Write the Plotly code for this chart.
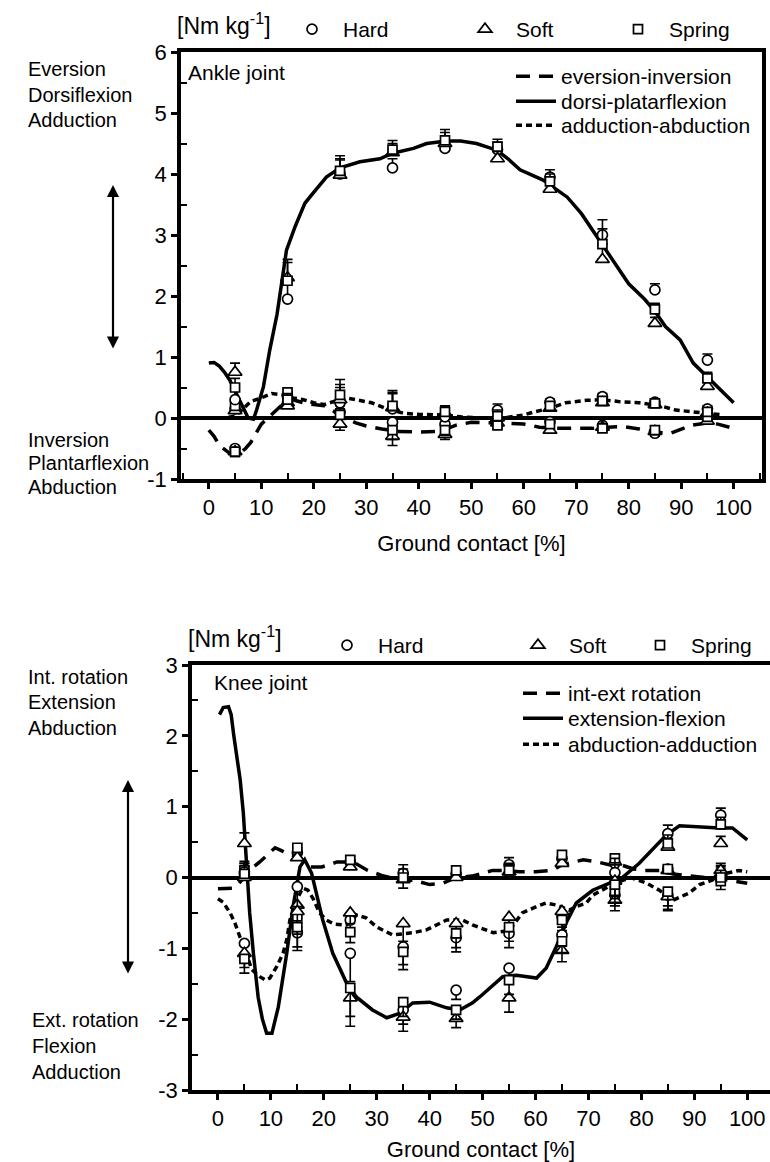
import plotly.graph_objects as go

FONT = "Liberation Sans, Arial, sans-serif"
W, H = 770, 1162
MB = 72  # bottom margin (px) holding the lower x-axis labels and title
PH = H - MB  # plotting-area height

# ---------------- data ----------------
pct = [5, 15, 25, 35, 45, 55, 65, 75, 85, 95]
x_ticks = [0, 10, 20, 30, 40, 50, 60, 70, 80, 90, 100]
x_minor = [-5, 5, 15, 25, 35, 45, 55, 65, 75, 85, 95, 105]
ankle_y_ticks = [-1, 0, 1, 2, 3, 4, 5, 6]
ankle_y_labels = ["-1", "0", "1", "2", "3", "4", "5", "6"]
ankle_y_minor = [-0.5, 0.5, 1.5, 2.5, 3.5, 4.5, 5.5]
knee_y_ticks = [-3, -2, -1, 0, 1, 2, 3]
knee_y_labels = ["-3", "-2", "-1", "0", "1", "2", "3"]
knee_y_minor = [-2.5, -1.5, -0.5, 0.5, 1.5, 2.5]

# Ankle joint curves
ankle_eve_x = [0, 1, 2, 3, 4, 5, 6, 7, 8, 9, 10, 11, 12.5, 14, 16, 18, 20, 22, 24, 26, 28, 30,
               33, 36, 40, 44, 47, 50, 55, 60, 63, 66, 70, 73, 76, 79, 82, 85, 88, 90, 92, 95, 97, 100]
ankle_eve_y = [-0.2, -0.3, -0.45, -0.52, -0.58, -0.6, -0.57, -0.5, -0.4, -0.25, -0.1, -0.02, 0.1,
               0.22, 0.3, 0.25, 0.22, 0.2, 0.1, 0.0, -0.08, -0.13, -0.18, -0.22, -0.23, -0.22, -0.12,
               -0.07, -0.08, -0.1, -0.15, -0.17, -0.17, -0.17, -0.15, -0.14, -0.18, -0.23, -0.25,
               -0.18, -0.12, -0.08, -0.1, -0.17]
ankle_dor_x = [0, 1, 2, 3, 4, 5, 6, 7, 7.5, 8.5, 9.1, 10.4, 11.6, 13, 14, 14.8, 16.4, 18.3, 19.9,
               22.4, 25, 28.8, 32.6, 35, 39, 41.5, 45.3, 48, 51, 54.9, 57, 59.3, 63.7, 68.3, 71, 75,
               78, 80, 83, 85, 87, 89.8, 92.3, 94.2, 96, 98, 100]
ankle_dor_y = [0.9, 0.91, 0.85, 0.75, 0.62, 0.45, 0.25, 0.08, 0.0, -0.02, 0.13, 0.51, 1.11, 1.7,
               2.3, 2.75, 3.13, 3.52, 3.69, 3.95, 4.1, 4.2, 4.25, 4.34, 4.42, 4.5, 4.54, 4.54, 4.5,
               4.39, 4.25, 4.07, 3.9, 3.62, 3.35, 2.85, 2.45, 2.2, 1.95, 1.75, 1.5, 1.28, 0.9, 0.74,
               0.6, 0.43, 0.25]
ankle_add_x = [0, 3, 5, 6.5, 8, 10, 12, 14, 16, 18, 20, 22, 24, 26, 28, 31, 34, 37, 40, 44, 48, 52,
               56, 60, 62, 65, 68, 72, 75, 78, 82, 86, 89, 93, 96, 98]
ankle_add_y = [0.0, 0.0, 0.03, 0.15, 0.27, 0.33, 0.4, 0.38, 0.33, 0.3, 0.25, 0.22, 0.28, 0.33, 0.3,
               0.25, 0.15, 0.08, 0.06, 0.05, 0.02, 0.0, 0.0, 0.05, 0.1, 0.16, 0.25, 0.29, 0.3, 0.27,
               0.25, 0.2, 0.13, 0.1, 0.07, 0.05]

# Ankle joint markers (Hard / Soft / Spring) and error sizes
ankle_dor_hard = [0.3, 1.95, 4.0, 4.1, 4.42, 4.4, 3.95, 3.0, 2.1, 0.95]
ankle_dor_soft = [0.75, 2.3, 3.98, 4.35, 4.5, 4.25, 3.75, 2.6, 1.55, 0.52]
ankle_dor_spring = [0.5, 2.25, 4.05, 4.4, 4.55, 4.45, 3.88, 2.85, 1.78, 0.65]
ankle_dor_err = [0.15, 0.3, 0.25, 0.15, 0.18, 0.12, 0.12, 0.25, 0.1, 0.1]
ankle_eve_hard = [-0.5, 0.35, 0.1, -0.07, -0.1, -0.05, -0.06, -0.12, -0.25, 0.0]
ankle_eve_soft = [-0.55, 0.25, -0.1, -0.3, -0.27, -0.08, -0.2, -0.15, -0.22, -0.05]
ankle_eve_spring = [-0.55, 0.42, 0.05, -0.2, -0.2, -0.12, -0.1, -0.17, -0.2, 0.02]
ankle_eve_err = [0.08, 0.05, 0.1, 0.15, 0.08, 0.05, 0.05, 0.05, 0.05, 0.05]
ankle_add_hard = [0.15, 0.25, 0.25, 0.15, 0.02, 0.13, 0.26, 0.35, 0.26, 0.15]
ankle_add_soft = [0.12, 0.2, 0.3, 0.17, 0.08, 0.0, 0.16, 0.25, 0.22, 0.08]
ankle_add_spring = [0.2, 0.3, 0.38, 0.2, 0.1, 0.03, 0.2, 0.28, 0.24, 0.1]
ankle_add_err = [0.1, 0.1, 0.25, 0.25, 0.1, 0.1, 0.05, 0.05, 0.05, 0.05]

# Knee joint curves
knee_int_x = [0, 1, 2.8, 4, 5, 6.4, 7.9, 9.5, 10.8, 12, 13.6, 15, 16.5, 17.4, 19.6, 21, 22.5, 25.5,
              28.3, 30.9, 34.6, 37, 40, 42.5, 45, 48, 51.9, 54, 57, 60, 63.2, 65, 69, 71.7, 74.5,
              76.5, 78.5, 80.6, 83.4, 86, 89, 92, 95, 98, 100]
knee_int_y = [-0.16, -0.16, -0.15, -0.08, 0.0, 0.13, 0.22, 0.33, 0.42, 0.38, 0.32, 0.3, 0.22, 0.15,
              0.15, 0.18, 0.22, 0.22, 0.1, 0.03, -0.04, -0.04, -0.1, -0.08, 0.0, 0.02, 0.1, 0.1,
              0.08, 0.08, 0.1, 0.18, 0.25, 0.22, 0.17, 0.17, 0.12, 0.1, 0.1, 0.05, 0.02, 0.0,
              -0.02, -0.05, -0.08]
knee_ext_x = [0.3, 1, 2, 2.5, 3, 4.2, 4.8, 5.4, 6.0, 6.7, 7.6, 8.4, 9.2, 10.2, 11.4, 13, 14.2, 15.5,
              16.4, 17.7, 18.6, 19.8, 21.7, 24.3, 26.2, 29.2, 31.9, 34.3, 36.8, 40, 43.2, 45.7,
              48.1, 49.4, 53.8, 56.4, 60.2, 62, 63.9, 65.8, 67.7, 70.8, 74, 76.4, 79.6, 82.1, 84.7,
              87.2, 90.9, 94.7, 97.2, 99, 100]
knee_ext_y = [2.3, 2.4, 2.41, 2.3, 2.0, 1.38, 0.91, 0.2, -0.5, -1.07, -1.69, -2.0, -2.2, -2.2,
              -1.83, -1.07, -0.41, 0.15, 0.25, 0.06, -0.22, -0.6, -1.07, -1.49, -1.69, -1.87,
              -1.98, -1.92, -1.77, -1.76, -1.84, -1.87, -1.77, -1.69, -1.4, -1.38, -1.42, -1.28,
              -0.98, -0.64, -0.36, -0.18, -0.08, 0.0, 0.2, 0.39, 0.6, 0.73, 0.71, 0.7, 0.7, 0.6,
              0.53]
knee_abd_x = [0, 1, 2.3, 3.2, 4.2, 5, 6.4, 7.9, 9, 9.8, 11.1, 12.3, 13, 13.6, 15, 16, 17, 18, 19.2,
              20.5, 22, 24.3, 26.2, 28, 30, 33, 36.8, 39.4, 43.2, 46.2, 48.1, 50.7, 52, 55, 57.5,
              60.2, 62, 64, 66.4, 67.7, 69.6, 70.8, 72.6, 75, 78, 81, 83.4, 86, 89, 91, 94, 96,
              98.5, 100]
knee_abd_y = [-0.3, -0.35, -0.5, -0.64, -0.85, -1.0, -1.3, -1.4, -1.45, -1.42, -1.26, -1.07, -0.88,
              -0.6, -0.3, -0.15, -0.18, -0.3, -0.5, -0.6, -0.66, -0.67, -0.53, -0.57, -0.7, -0.81,
              -0.78, -0.74, -0.6, -0.6, -0.67, -0.74, -0.78, -0.75, -0.5, -0.41, -0.36, -0.39,
              -0.46, -0.41, -0.36, -0.25, -0.18, -0.08, 0.0, -0.08, -0.18, -0.32, -0.22, -0.1,
              -0.02, 0.06, 0.1, 0.08]

# Knee joint markers
knee_ext_hard = [0.08, -0.13, -1.07, -1.87, -1.59, -1.28, -0.81, 0.07, 0.62, 0.88]
knee_ext_soft = [0.48, -0.48, -1.7, -1.97, -1.99, -1.7, -1.03, -0.05, 0.43, 0.48]
knee_ext_spring = [0.05, -0.7, -1.56, -1.76, -1.87, -1.45, -0.9, -0.1, 0.48, 0.75]
knee_ext_err = [0.15, 0.28, 0.4, 0.2, 0.13, 0.2, 0.16, 0.2, 0.12, 0.1]
knee_int_hard = [0.05, 0.35, 0.22, 0.06, 0.05, 0.18, 0.27, 0.2, 0.12, 0.0]
knee_int_soft = [0.0, 0.28, 0.15, -0.03, 0.0, 0.08, 0.2, 0.22, 0.1, 0.05]
knee_int_spring = [0.1, 0.42, 0.25, 0.0, 0.1, 0.1, 0.32, 0.27, 0.12, -0.05]
knee_int_err = [0.1, 0.05, 0.05, 0.12, 0.06, 0.1, 0.05, 0.05, 0.05, 0.12]
knee_abd_hard = [-0.93, -0.78, -0.6, -0.98, -0.85, -0.79, -0.55, -0.25, -0.25, 0.05]
knee_abd_soft = [-1.07, -0.39, -0.5, -0.65, -0.65, -0.56, -0.48, -0.32, -0.27, 0.1]
knee_abd_spring = [-1.15, -0.55, -0.77, -1.05, -0.79, -0.7, -0.6, -0.2, -0.2, 0.0]
knee_abd_err = [0.2, 0.25, 0.15, 0.25, 0.2, 0.2, 0.15, 0.15, 0.2, 0.1]

# ---------------- styles ----------------
LONG_DASH = "14px,9px"
SHORT_DASH = "6px,4px"
LW = 3.5
SYMBOLS = {"Hard": ("circle", 10), "Soft": ("triangle-up", 12), "Spring": ("square", 9)}
FS = 21

fig = go.Figure()


def add_line(x, y, name, dash, xa, ya, legend):
    fig.add_trace(go.Scatter(
        x=x, y=y, mode="lines", name=name, xaxis=xa, yaxis=ya, legend=legend,
        line=dict(color="black", width=LW, dash=dash), hoverinfo="skip"))


def add_markers(y, err, surface, xa, ya, legend=None):
    sym, size = SYMBOLS[surface]
    plus = [e if v >= 0 else 0 for v, e in zip(y, err)]
    minus = [e if v < 0 else 0 for v, e in zip(y, err)]
    fig.add_trace(go.Scatter(
        x=pct, y=y, mode="markers", name=surface, xaxis=xa, yaxis=ya,
        showlegend=legend is not None, legend=legend if legend else "legend",
        marker=dict(symbol=sym, size=size, color="white",
                    line=dict(color="black", width=1.7)),
        error_y=dict(type="data", symmetric=False, array=plus, arrayminus=minus,
                     color="black", thickness=1.6, width=5),
        hoverinfo="skip"))


# Ankle panel (x, y)
add_line(ankle_eve_x, ankle_eve_y, "eversion-inversion", LONG_DASH, "x", "y", "legend")
add_line(ankle_dor_x, ankle_dor_y, "dorsi-platarflexion", "solid", "x", "y", "legend9")
add_line(ankle_add_x, ankle_add_y, "adduction-abduction", SHORT_DASH, "x", "y", "legend10")
add_markers(ankle_eve_hard, ankle_eve_err, "Hard", "x", "y", "legend3")
add_markers(ankle_eve_soft, ankle_eve_err, "Soft", "x", "y", "legend4")
add_markers(ankle_eve_spring, ankle_eve_err, "Spring", "x", "y", "legend5")
add_markers(ankle_add_hard, ankle_add_err, "Hard", "x", "y")
add_markers(ankle_add_soft, ankle_add_err, "Soft", "x", "y")
add_markers(ankle_add_spring, ankle_add_err, "Spring", "x", "y")
add_markers(ankle_dor_hard, ankle_dor_err, "Hard", "x", "y")
add_markers(ankle_dor_soft, ankle_dor_err, "Soft", "x", "y")
add_markers(ankle_dor_spring, ankle_dor_err, "Spring", "x", "y")

# Knee panel (x2, y2)
add_line(knee_int_x, knee_int_y, "int-ext rotation", LONG_DASH, "x2", "y2", "legend2")
add_line(knee_ext_x, knee_ext_y, "extension-flexion", "solid", "x2", "y2", "legend11")
add_line(knee_abd_x, knee_abd_y, "abduction-adduction", SHORT_DASH, "x2", "y2", "legend12")
add_markers(knee_int_hard, knee_int_err, "Hard", "x2", "y2", "legend6")
add_markers(knee_int_soft, knee_int_err, "Soft", "x2", "y2", "legend7")
add_markers(knee_int_spring, knee_int_err, "Spring", "x2", "y2", "legend8")
add_markers(knee_abd_hard, knee_abd_err, "Hard", "x2", "y2")
add_markers(knee_abd_soft, knee_abd_err, "Soft", "x2", "y2")
add_markers(knee_abd_spring, knee_abd_err, "Spring", "x2", "y2")
add_markers(knee_ext_hard, knee_ext_err, "Hard", "x2", "y2")
add_markers(knee_ext_soft, knee_ext_err, "Soft", "x2", "y2")
add_markers(knee_ext_spring, knee_ext_err, "Spring", "x2", "y2")


def px_x(p):
    return p / W


def py(p):
    """pixel row -> paper y (plot area spans rows 0..PH)"""
    return (PH - p) / PH


def cy(p):
    """pixel row -> container y"""
    return 1 - p / H


tickfont = dict(family=FONT, size=22, color="black")
minor_style = dict(ticks="inside", ticklen=6, tickwidth=2, tickcolor="black", showgrid=False)


def xaxis_cfg(domain, rng, anchor):
    return dict(domain=domain, range=rng, anchor=anchor, tickvals=x_ticks, automargin=False,
                ticks="outside", ticklen=6, tickwidth=3, tickcolor="black",
                showline=True, linecolor="black", linewidth=3.5, mirror=True,
                showgrid=False, zeroline=False, tickfont=tickfont,
                minor=dict(tickvals=x_minor, **minor_style),
                title=dict(text="Ground contact [%]", font=dict(family=FONT, size=22, color="black"),
                           standoff=17))


def yaxis_cfg(domain, rng, anchor, tv, tt, minor_vals, mirror):
    return dict(domain=domain, range=rng, anchor=anchor, tickvals=tv, ticktext=tt,
                automargin=False,
                ticks="outside", ticklen=6, tickwidth=3, tickcolor="black",
                showline=True, linecolor="black", linewidth=3.5, mirror=mirror,
                showgrid=False, zeroline=True, zerolinecolor="black", zerolinewidth=3.5,
                tickfont=tickfont,
                minor=dict(tickvals=minor_vals, **minor_style))


top_x = [px_x(181), px_x(762)]
top_y = [py(479), py(52)]
bot_x = [px_x(192), 1.0]
bot_y = [py(1090), py(665)]

legfont = dict(family=FONT, size=FS, color="black")


def leg(left_px, top_px, itemwidth=30):
    return dict(x=px_x(left_px), y=cy(top_px), xref="container", yref="container",
                xanchor="left", yanchor="top",
                bgcolor="rgba(0,0,0,0)", font=legfont, borderwidth=0, itemwidth=itemwidth)


annotations = []


def add_text(text, x_px, y_px, size=FS, xanchor="left"):
    annotations.append(dict(text=text, x=px_x(x_px), y=py(y_px), xref="paper", yref="paper",
                            xanchor=xanchor, yanchor="middle", showarrow=False, align="left",
                            font=dict(family=FONT, size=size, color="black")))


add_text("[Nm kg<sup>-1</sup>]", 175, 24, 23)
add_text("Ankle joint", 186, 72)
add_text("[Nm kg<sup>-1</sup>]", 186, 637, 23)
add_text("Knee joint", 212, 682)

side_labels = [
    ("Eversion", 26, 69), ("Dorsiflexion", 26, 95), ("Adduction", 26, 120),
    ("Inversion", 26, 440), ("Plantarflexion", 26, 463), ("Abduction", 26, 487),
    ("Int. rotation", 26, 677), ("Extension", 26, 702), ("Abduction", 26, 728),
    ("Ext. rotation", 30, 1020), ("Flexion", 30, 1046), ("Adduction", 30, 1072),
]
for txt, xp, yp in side_labels:
    add_text(txt, xp, yp, 20)

for xp, top, bottom in [(113, 185, 350), (128, 780, 975)]:
    annotations.append(dict(x=px_x(xp), y=py(top), xref="paper", yref="paper", text="",
                            showarrow=True, ax=0, ay=bottom - top, arrowside="end+start",
                            arrowhead=2, arrowsize=1.1, arrowwidth=2.2, arrowcolor="black"))

fig.update_layout(
    width=W, height=H, margin=dict(l=0, r=0, t=0, b=MB, pad=0, autoexpand=False),
    paper_bgcolor="white", plot_bgcolor="white",
    font=dict(family=FONT, size=FS, color="black"),
    xaxis=xaxis_cfg(top_x, [-5.3, 105.4], "y"),
    yaxis=yaxis_cfg(top_y, [-1, 6], "x", ankle_y_ticks, ankle_y_labels, ankle_y_minor, True),
    xaxis2=xaxis_cfg(bot_x, [-4.9, 104.3], "y2"),
    yaxis2=yaxis_cfg(bot_y, [-3, 3], "x2", knee_y_ticks, knee_y_labels, knee_y_minor, False),
    legend=leg(511, 56, 40),
    legend9=leg(511, 81, 40),
    legend10=leg(511, 105, 40),
    legend2=leg(518, 673, 40),
    legend11=leg(518, 698, 40),
    legend12=leg(518, 724, 40),
    legend3=leg(281, 9, 52),
    legend4=leg(454, 9, 52),
    legend5=leg(607, 9, 52),
    legend6=leg(316, 625, 52),
    legend7=leg(507, 625, 52),
    legend8=leg(629, 625, 52),
    annotations=annotations,
    showlegend=True,
)

fig.write_html("out.html")
